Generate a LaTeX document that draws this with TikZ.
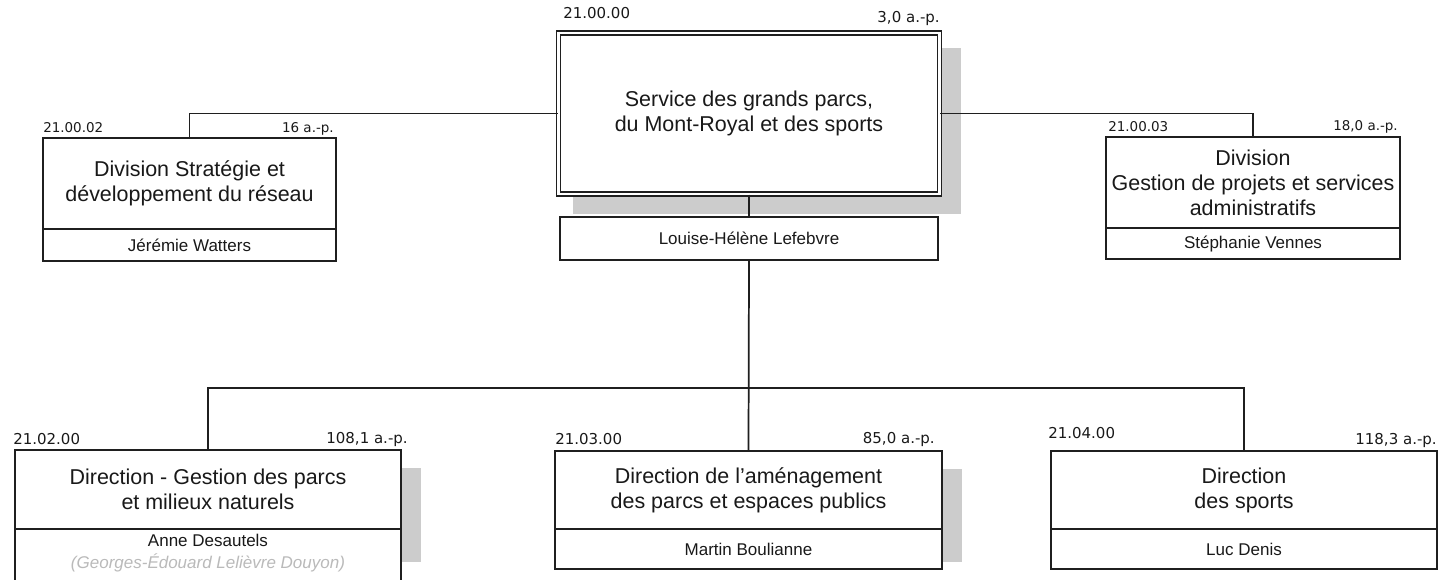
\documentclass[tikz,border=0pt]{standalone}
\usepackage{fontspec}
\setmainfont{Liberation Sans}
\newfontfamily\codefont{DejaVu Sans}
\begin{document}
\begin{tikzpicture}[x=0.75pt,y=-0.75pt,
  ln/.style={line width=1.3pt, draw=black!88},
  titlebox/.style={ln, fill=white, inner sep=0pt, align=center,
    font=\fontsize{16.1}{18.75}\selectfont, text=black!90},
  namebox/.style={ln, fill=white, inner sep=0pt, align=center,
    font=\fontsize{12.75}{16.5}\selectfont, text=black!90},
  nametext/.style={inner sep=0pt, align=center, font=\fontsize{12.75}{16.5}\selectfont, text=black!90},
  codeL/.style={inner sep=0pt, anchor=base west, font=\codefont\fontsize{11.25}{13}\selectfont, text=black!90},
  codeR/.style={inner sep=0pt, anchor=base east, font=\codefont\fontsize{11.25}{13}\selectfont, text=black!90},
  codeLs/.style={codeL, font=\codefont\fontsize{10.1}{12}\selectfont},
  codeRs/.style={codeR, font=\codefont\fontsize{10.1}{12}\selectfont},
  shadowbox/.style={fill=black!20, draw=none},
  conn/.style={ln}
]
\useasboundingbox (0,0) rectangle (1439,579);
\clip (0,0) rectangle (1439,579);
\fill[white] (0,0) rectangle (1439,579);

% shadows
\fill[shadowbox] (573,48) rectangle (961,214);
\fill[shadowbox] (395,468) rectangle (421,562);
\fill[shadowbox] (936,469) rectangle (962,562);

% main service
\node[titlebox, double, double distance=1.7pt, line width=1.05pt,
  minimum width=381*0.75pt, minimum height=161*0.75pt] (main) at (749,113.5)
  {Service des grands parcs,\\du Mont-Royal et des sports};
\node[namebox, minimum width=378*0.75pt, minimum height=43*0.75pt] (mainname) at (749,238.5)
  {Louise-Hélène Lefebvre};
\node[codeL] (maincode) at (563,18) {21.00.00};
\node[codeR] (mainap) at (940,22) {3,0 a.-p.};

% division 1
\node[titlebox, minimum width=293*0.75pt, minimum height=91*0.75pt] (div1) at (189.5,183.5)
  {Division Stratégie et\\développement du réseau};
\node[namebox, minimum width=293*0.75pt, minimum height=32*0.75pt] (div1name) at (189.5,245)
  {Jérémie Watters};
\node[codeLs] (div1code) at (43,132.5) {21.00.02};
\node[codeRs] (div1ap) at (334,132.5) {16 a.-p.};

% division 2
\node[titlebox, minimum width=294*0.75pt, minimum height=91*0.75pt] (div2) at (1253,182.5)
  {Division\\Gestion de projets et services\\administratifs};
\node[namebox, minimum width=294*0.75pt, minimum height=31*0.75pt] (div2name) at (1253,243.5)
  {Stéphanie Vennes};
\node[codeLs] (div2code) at (1108,131.5) {21.00.03};
\node[codeRs] (div2ap) at (1398,130) {18,0 a.-p.};

% direction 1
\node[titlebox, minimum width=386*0.75pt, minimum height=79*0.75pt] (dir1) at (208,489.5)
  {Direction - Gestion des parcs\\et milieux naturels};
\node[namebox, minimum width=386*0.75pt, minimum height=71*0.75pt] (dir1name) at (208,564.5) {};
\node[nametext] (dir1person) at (208,553.5)
  {Anne Desautels\\{\color{black!27}\itshape (Georges-Édouard Lelièvre Douyon)}};
\node[codeL] (dir1code) at (13,444) {21.02.00};
\node[codeR] (dir1ap) at (408,443) {108,1 a.-p.};

% direction 2
\node[titlebox, minimum width=387*0.75pt, minimum height=78*0.75pt] (dir2) at (748.5,490)
  {Direction de l’aménagement\\des parcs et espaces publics};
\node[namebox, minimum width=387*0.75pt, minimum height=40*0.75pt] (dir2name) at (748.5,549)
  {Martin Boulianne};
\node[codeL] (dir2code) at (555,444) {21.03.00};
\node[codeR] (dir2ap) at (935,443) {85,0 a.-p.};

% direction 3
\node[titlebox, minimum width=386*0.75pt, minimum height=78*0.75pt] (dir3) at (1244,490)
  {Direction\\des sports};
\node[namebox, minimum width=386*0.75pt, minimum height=40*0.75pt] (dir3name) at (1244,549)
  {Luc Denis};
\node[codeL] (dir3code) at (1048,438) {21.04.00};
\node[codeR] (dir3ap) at (1437,444) {118,3 a.-p.};

% connectors
\coordinate (bus) at (749,388);
\draw[conn] (main.south) -- (mainname.north);
\draw[conn] (mainname.south) -- (dir2.north);
\draw[conn] (dir1.north) |- (bus) -| (dir3.north);
\draw[conn] (main.west) -| (div1.north);
\draw[conn] (main.east) -| (div2.north);
\end{tikzpicture}
\end{document}
